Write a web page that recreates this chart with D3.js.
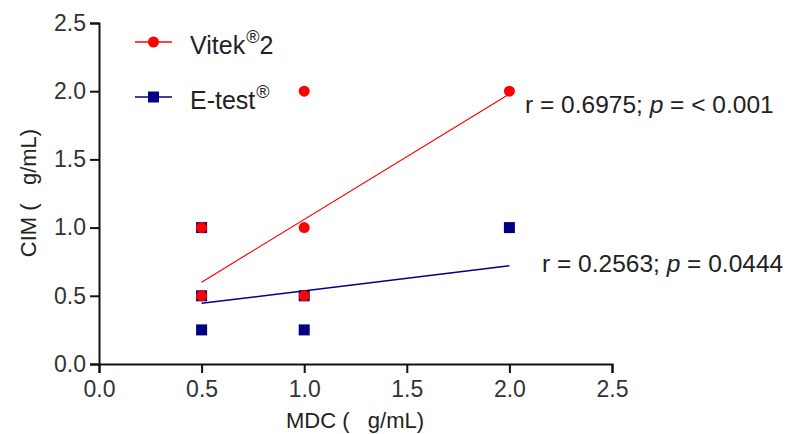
<!DOCTYPE html>
<html>
<head>
<meta charset="utf-8">
<script src="https://cdn.jsdelivr.net/npm/d3@7"></script>
<style>
    body { margin: 0; background: #fff; }
    text { font-family: "Liberation Sans", Arial, sans-serif; }
</style>
</head>
<body>
<svg id="chart" width="787" height="434"></svg>
<script>
// data
const xTicks = [0, 0.5, 1.0, 1.5, 2.0, 2.5];
const yTicks = [0, 0.5, 1.0, 1.5, 2.0, 2.5];

const vitekX = [0.5, 0.5, 1.0, 1.0, 1.0, 2.0];
const vitekY = [0.5, 1.0, 0.5, 1.0, 2.0, 2.0];

const etestX = [0.5, 0.5, 0.5, 1.0, 1.0, 2.0];
const etestY = [0.25, 0.5, 1.0, 0.25, 0.5, 1.0];

// fitted lines (start / end)
const vitekFitX = [0.5, 2.0];
const vitekFitY = [0.6, 1.98];
const etestFitX = [0.5, 2.0];
const etestFitY = [0.445, 0.72];

const vitekStat = "r = 0.6975; ";
const vitekP = " = < 0.001";
const etestStat = "r = 0.2563; ";
const etestP = " = 0.0444";

const red = "#ff0000", navy = "#000080";

let svg = d3.select("#chart");

let x = d3.scaleLinear().domain([0, 2.5]).range([99, 612]);
let y = d3.scaleLinear().domain([0, 2.5]).range([364, 23]);

// axes
let xAxis = svg.append("g").attr("transform", "translate(0,364)")
    .call(d3.axisBottom(x).tickValues(xTicks).tickFormat(d3.format(".1f")).tickSizeOuter(0).tickSize(9).tickPadding(8));
let yAxis = svg.append("g").attr("transform", "translate(99,0)")
    .call(d3.axisLeft(y).tickValues(yTicks).tickFormat(d3.format(".1f")).tickSizeOuter(0).tickSize(9).tickPadding(4));

[xAxis, yAxis].forEach(function (a) {
    a.select(".domain").attr("stroke", "#111").attr("stroke-width", 2);
    a.selectAll(".tick line").attr("stroke", "#111").attr("stroke-width", 2);
    a.selectAll(".tick text").attr("fill", "#333").style("font-size", "23px");
});

// axis titles
svg.append("text").attr("x", 355).attr("y", 428).attr("text-anchor", "middle")
    .style("font-size", "22px").style("white-space", "pre").attr("fill", "#222")
    .text("MDC (   g/mL)");
svg.append("text").attr("transform", "translate(36,193) rotate(-90)").attr("text-anchor", "middle")
    .style("font-size", "22px").style("white-space", "pre").attr("fill", "#222")
    .text("CIM (   g/mL)");

// fit lines
let line = d3.line().x(d => x(d[0])).y(d => y(d[1]));
svg.append("path").datum(d3.zip(vitekFitX, vitekFitY)).attr("d", line)
    .attr("fill", "none").attr("stroke", red).attr("stroke-width", 1.2);
svg.append("path").datum(d3.zip(etestFitX, etestFitY)).attr("d", line)
    .attr("fill", "none").attr("stroke", navy).attr("stroke-width", 1.5);

// points: squares under circles
svg.append("g").selectAll("rect").data(d3.zip(etestX, etestY)).enter().append("rect")
    .attr("x", d => x(d[0]) - 5.5).attr("y", d => y(d[1]) - 5.5)
    .attr("width", 11).attr("height", 11).attr("fill", navy);
svg.append("g").selectAll("circle").data(d3.zip(vitekX, vitekY)).enter().append("circle")
    .attr("cx", d => x(d[0])).attr("cy", d => y(d[1])).attr("r", 5.5).attr("fill", red);

// legend
let legend = [
    {name: "Vitek", sup: "®", tail: "2", color: red, shape: "circle", y: 42},
    {name: "E-test", sup: "®", tail: "", color: navy, shape: "square", y: 97}
];
legend.forEach(function (l) {
    svg.append("line").attr("x1", 135).attr("x2", 172).attr("y1", l.y).attr("y2", l.y)
        .attr("stroke", l.color).attr("stroke-width", 1.5);
    if (l.shape === "circle") {
        svg.append("circle").attr("cx", 153.5).attr("cy", l.y).attr("r", 5.5).attr("fill", l.color);
    } else {
        svg.append("rect").attr("x", 148).attr("y", l.y - 5.5).attr("width", 11).attr("height", 11).attr("fill", l.color);
    }
    let t = svg.append("text").attr("x", 190).attr("y", l.y + 12).style("font-size", "25px").attr("fill", "#222");
    t.append("tspan").text(l.name);
    t.append("tspan").attr("dx", 1).attr("dy", -11).style("font-size", "18px").text(l.sup);
    if (l.tail) t.append("tspan").attr("dy", 11).text(l.tail);
});

// correlation annotations
function stat(xp, yp, a, b) {
    let t = svg.append("text").attr("x", xp).attr("y", yp).style("font-size", "24.5px")
        .style("white-space", "pre").attr("fill", "#222");
    t.append("tspan").text(a);
    t.append("tspan").style("font-style", "italic").text("p");
    t.append("tspan").text(b);
}
stat(525, 113, vitekStat, vitekP);
stat(542, 272, etestStat, etestP);
</script>
</body>
</html>
